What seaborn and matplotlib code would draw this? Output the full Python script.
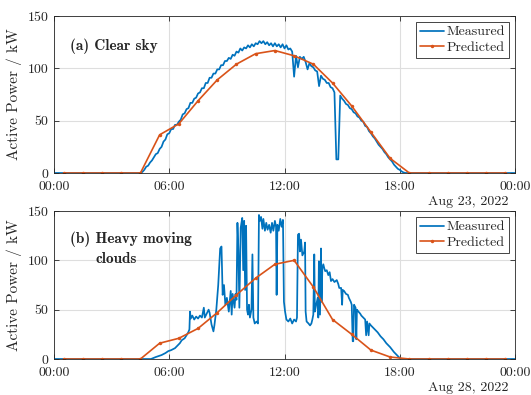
import numpy as np
import pandas as pd
import matplotlib
matplotlib.use("Agg")
import matplotlib.pyplot as plt
import seaborn as sns

# ---------------------------------------------------------------- data
# Forecast: one value per hour, stamped at the half hour
pred_hours = [0.5, 1.5, 2.5, 3.5, 4.5, 5.5, 6.5, 7.5, 8.5, 9.5, 10.5, 11.5,
              12.5, 13.5, 14.5, 15.5, 16.5, 17.5, 18.5, 19.5, 20.5, 21.5, 22.5, 23.5]
pred_clear = [0, 0, 0, 0, 0, 36.5, 47, 69, 89, 104, 114, 117,
              112, 104, 86, 64, 39, 14, 0, 0, 0, 0, 0, 0]
pred_cloudy = [0, 0, 0, 0, 0, 16, 21, 31, 47, 65, 82, 96,
               100, 73, 40, 25, 9, 2, 0, 0, 0, 0, 0, 0]

# Measured power on the clear day, sampled every 6 min from 04:30 to 18:24
clear_start = 4.5
clear_step = 0.1
clear_vals = [
    0, 1, 3, 6, 7, 10, 12, 15, 18, 19,
    23, 25, 30, 32, 37, 38, 42, 42, 46, 46,
    49, 51, 56, 57, 61, 62, 67, 67, 71, 72,
    76, 77, 81, 81, 86, 86, 91, 91, 95, 95,
    99, 99, 103, 103, 107, 107, 110, 109, 113, 112,
    116, 115, 119, 117, 120, 119, 122, 120, 123, 121,
    124, 123, 126, 124, 126, 123, 125, 122, 124, 121,
    124, 121, 123, 120, 123, 119, 122, 118, 119, 116,
    92, 112, 101, 111, 109, 111, 106, 99, 105, 102,
    101, 98, 97, 83, 93, 90, 89, 86, 86, 82,
    81, 77, 13, 13, 74, 71, 69, 66, 65, 62,
    61, 58, 57, 54, 53, 50, 49, 45, 44, 40,
    38, 35, 33, 30, 27, 25, 23, 20, 18, 15,
    13, 11, 8, 6, 4, 3, 1.5, 0.5, 0, 0,
]

# Measured power on the cloudy day (time in hours, power in kW)
cloudy_t = [
    0.0, 5.05, 5.3, 5.6, 5.8, 5.95, 6.1, 6.3, 6.45, 6.55, 6.65, 6.8, 6.9, 6.99,
    7.05, 7.08, 7.12, 7.2, 7.3, 7.4, 7.5, 7.6, 7.7, 7.8, 7.85, 7.95, 8.05, 8.1,
    8.2, 8.3, 8.35, 8.45, 8.55, 8.65, 8.72, 8.78, 8.85, 8.92, 9.0, 9.1, 9.2, 9.25,
    9.3, 9.4, 9.45, 9.5, 9.55, 9.6, 9.65, 9.72, 9.8, 9.85, 9.9, 9.95, 10.0, 10.05,
    10.1, 10.15, 10.2, 10.28, 10.33, 10.38, 10.45, 10.55, 10.62, 10.67, 10.72,
    10.78, 10.85, 10.9, 10.98, 11.05, 11.12, 11.2, 11.28, 11.35, 11.42, 11.5,
    11.56, 11.59, 11.63, 11.7, 11.78, 11.85, 11.92, 11.97, 12.03, 12.1, 12.2,
    12.3, 12.4, 12.5, 12.6, 12.65, 12.7, 12.76, 12.8, 12.86, 12.93, 13.03, 13.07,
    13.1, 13.15, 13.25, 13.33, 13.4, 13.45, 13.5, 13.55, 13.58, 13.65, 13.73,
    13.76, 13.79, 13.85, 13.9, 13.93, 13.97, 14.02, 14.07, 14.12, 14.2, 14.28,
    14.35, 14.42, 14.5, 14.6, 14.72, 14.8, 14.85, 14.95, 15.0, 15.03, 15.1, 15.2,
    15.3, 15.35, 15.45, 15.5, 15.55, 15.58, 15.62, 15.7, 15.74, 15.77, 15.85,
    15.94, 16.0, 16.1, 16.2, 16.25, 16.3, 16.38, 16.42, 16.5, 16.7, 16.85, 17.0,
    17.15, 17.3, 17.5, 17.7, 17.85, 18.0, 18.1, 24.0,
]
cloudy_p = [
    0, 0, 2, 4, 6, 8, 9, 11, 14, 16, 19, 21, 24, 27,
    30, 48, 41, 44, 40, 43, 41, 44, 42, 52, 42, 46, 50, 47,
    35, 28, 34, 50, 75, 112, 114, 65, 75, 55, 62, 48, 69, 45,
    66, 52, 66, 60, 138, 110, 52, 133, 143, 90, 140, 70, 135, 50,
    45, 55, 42, 50, 106, 42, 36, 38, 36, 146, 140,
    144, 132, 142, 130, 138, 131, 136, 128, 138, 130, 140,
    134, 65, 136, 130, 142, 134, 141, 58, 48, 40, 38,
    41, 36, 40, 38, 42, 126, 127, 109, 121, 105, 109, 118,
    48, 38, 36, 34, 36, 40, 45, 106, 48, 55, 62,
    42, 99, 45, 112, 58, 92, 96, 92, 89, 90, 85,
    88, 79, 81, 78, 80, 76, 72, 72, 55, 70, 69, 66,
    65, 62, 58, 55, 18, 18, 55, 52, 20, 50, 48,
    46, 44, 42, 40, 24, 38, 24, 36, 34, 30, 27, 23,
    20, 16, 12, 7, 4, 1, 0, 0,
]

hour_ticks = [0, 6, 12, 18, 24]
hour_labels = ["00:00", "06:00", "12:00", "18:00", "00:00"]
power_ticks = [0, 50, 100, 150]
dates = ["Aug 23, 2022", "Aug 28, 2022"]

# ---------------------------------------------------------------- tables
clear_t = [0.0] + list(np.round(clear_start + clear_step * np.arange(len(clear_vals)), 2)) + [24.0]
clear_p = [0.0] + clear_vals + [0.0]
meas_clear = pd.DataFrame({"hour": clear_t, "power": clear_p})
meas_cloudy = pd.DataFrame({"hour": cloudy_t, "power": cloudy_p})
fc_clear = pd.DataFrame({"hour": pred_hours, "power": pred_clear})
fc_cloudy = pd.DataFrame({"hour": pred_hours, "power": pred_cloudy})

# ---------------------------------------------------------------- style
sns.set_theme(style="ticks")
plt.rcParams.update({
    "font.family": ["cmr10"],
    "mathtext.fontset": "cm",
    "axes.formatter.use_mathtext": True,
    "axes.edgecolor": "#262626",
    "axes.linewidth": 0.6,
    "xtick.color": "#262626",
    "ytick.color": "#262626",
    "text.color": "#262626",
    "axes.labelcolor": "#262626",
})

BLUE = "#0072BD"
ORANGE = "#D95319"
GRID = "#dedede"

W, H = 531, 395
fig = plt.figure(figsize=(W / 100, H / 100), dpi=100)
ax1 = fig.add_axes([54 / W, 1 - 173 / H, 461 / W, 157 / H])
ax2 = fig.add_axes([54 / W, 1 - 359 / H, 461 / W, 148 / H])

panels = [
    (ax1, meas_clear, fc_clear),
    (ax2, meas_cloudy, fc_cloudy),
]

for ax, meas, fc in panels:
    sns.lineplot(data=meas, x="hour", y="power", ax=ax, color=BLUE,
                 linewidth=1.25, estimator=None, sort=False, label="Measured")
    sns.lineplot(data=fc, x="hour", y="power", ax=ax, color=ORANGE,
                 linewidth=1.2, marker=".", markersize=5, markeredgewidth=0,
                 estimator=None, sort=False, label="Predicted")
    ax.set_xlim(0, 24)
    ax.set_ylim(0, 150)
    ax.set_xticks(hour_ticks)
    ax.set_xticklabels(hour_labels)
    ax.set_yticks(power_ticks)
    ax.set_yticklabels([str(v) for v in power_ticks])
    ax.grid(True, color=GRID, linewidth=0.8)
    ax.set_axisbelow(True)
    ax.tick_params(direction="in", length=3.5, width=0.6, top=True, right=True,
                   labelsize=10)
    ax.tick_params(axis="x", pad=6)
    ax.tick_params(axis="y", pad=4)
    for sp in ax.spines.values():
        sp.set_visible(True)
    ax.set_xlabel("")
    ax.set_ylabel("Active Power / kW", fontsize=11, labelpad=4)
    leg = ax.legend(loc="upper right", fontsize=10, frameon=True, fancybox=False,
                    framealpha=1, edgecolor="#262626", handlelength=1.7,
                    handletextpad=0.2, borderpad=0.3, labelspacing=0.2,
                    borderaxespad=0.4)
    leg.get_frame().set_linewidth(0.6)

ax1.text((70 - 54) / 461, 0.81, "(a) Clear sky", transform=ax1.transAxes,
         family="cmb10", fontsize=11, va="center", ha="left")
ax2.text((70 - 54) / 461, 0.81, "(b) Heavy moving", transform=ax2.transAxes,
         family="cmb10", fontsize=11, va="center", ha="left")
ax2.text((96 - 54) / 461, 0.675, "clouds", transform=ax2.transAxes,
         family="cmb10", fontsize=11, va="center", ha="left")

fig.text(509 / W, 1 - 201.5 / H, dates[0], ha="right", va="center", fontsize=10)
fig.text(509 / W, 1 - 387.5 / H, dates[1], ha="right", va="center", fontsize=10)

fig.savefig("out.png", dpi=100)
